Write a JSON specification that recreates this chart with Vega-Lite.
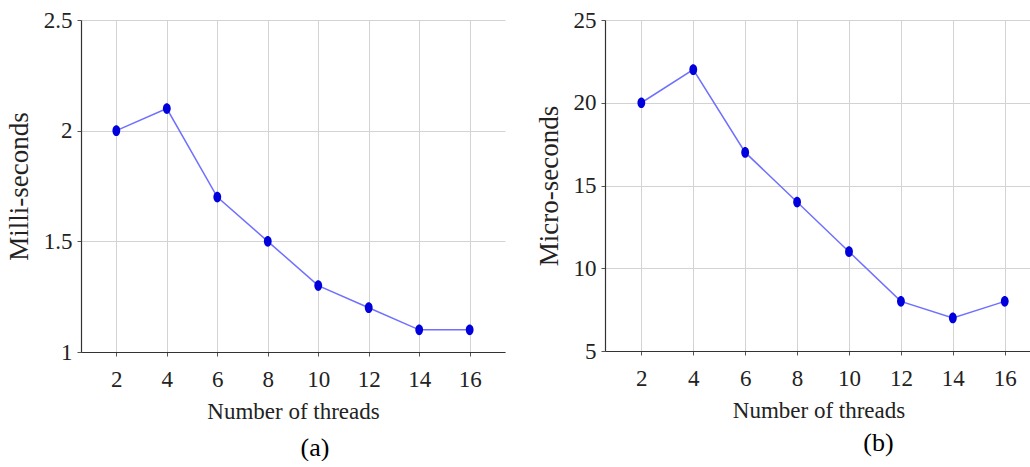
{
  "$schema": "https://vega.github.io/schema/vega-lite/v6.json",
  "background": "white",
  "padding": {"left": 5, "top": 9, "right": 0, "bottom": 0},
  "spacing": 30,
  "config": {
    "view": {"stroke": null},
    "axis": {
      "labelFont": "Liberation Serif",
      "titleFont": "Liberation Serif",
      "labelFontSize": 23,
      "titleFontSize": 23,
      "titleFontWeight": "normal",
      "labelColor": "#222222",
      "titleColor": "#222222",
      "gridColor": "#d3d3d3",
      "gridWidth": 1,
      "domainColor": "#333333",
      "domainWidth": 1.2,
      "tickColor": "#555555",
      "tickSize": 4
    },
    "axisY": {"titleFontSize": 27, "labelPadding": 5, "titlePadding": 10},
    "axisX": {"labelPadding": 12, "titlePadding": 9},
    "title": {"font": "Liberation Serif", "fontSize": 26, "fontWeight": "normal", "color": "#000000"}
  },
  "hconcat": [
    {
      "width": 424,
      "height": 332,
      "data": {"values": [
        {"threads": 2, "time": 2.0},
        {"threads": 4, "time": 2.1},
        {"threads": 6, "time": 1.7},
        {"threads": 8, "time": 1.5},
        {"threads": 10, "time": 1.3},
        {"threads": 12, "time": 1.2},
        {"threads": 14, "time": 1.1},
        {"threads": 16, "time": 1.1}
      ]},
      "title": {"text": "(a)", "orient": "bottom", "dx": 22, "offset": 12},
      "encoding": {
        "x": {"field": "threads", "type": "quantitative", "scale": {"domain": [0.6, 17.4], "nice": false, "zero": false},
              "axis": {"values": [2, 4, 6, 8, 10, 12, 14, 16], "title": "Number of threads"}},
        "y": {"field": "time", "type": "quantitative", "scale": {"domain": [1, 2.5], "nice": false, "zero": false},
              "axis": {"values": [1, 1.5, 2, 2.5], "format": "~g", "title": "Milli-seconds"}}
      },
      "layer": [
        {"mark": {"type": "line", "color": "#7070ff", "strokeWidth": 1.5}},
        {"mark": {"type": "point", "filled": true, "color": "#0000dd", "size": 95, "opacity": 1,
                  "shape": "M -0.8,0 A 0.8,1.1 0 1,0 0.8,0 A 0.8,1.1 0 1,0 -0.8,0 Z"}}
      ]
    },
    {
      "width": 427,
      "height": 331,
      "data": {"values": [
        {"threads": 2, "time": 20},
        {"threads": 4, "time": 22},
        {"threads": 6, "time": 17},
        {"threads": 8, "time": 14},
        {"threads": 10, "time": 11},
        {"threads": 12, "time": 8},
        {"threads": 14, "time": 7},
        {"threads": 16, "time": 8}
      ]},
      "title": {"text": "(b)", "orient": "bottom", "dx": 60, "offset": 8},
      "encoding": {
        "x": {"field": "threads", "type": "quantitative", "scale": {"domain": [0.6, 17.05], "nice": false, "zero": false},
              "axis": {"values": [2, 4, 6, 8, 10, 12, 14, 16], "title": "Number of threads"}},
        "y": {"field": "time", "type": "quantitative", "scale": {"domain": [5, 25], "nice": false, "zero": false},
              "axis": {"values": [5, 10, 15, 20, 25], "format": "~g", "title": "Micro-seconds"}}
      },
      "layer": [
        {"mark": {"type": "line", "color": "#7070ff", "strokeWidth": 1.5}},
        {"mark": {"type": "point", "filled": true, "color": "#0000dd", "size": 95, "opacity": 1,
                  "shape": "M -0.8,0 A 0.8,1.1 0 1,0 0.8,0 A 0.8,1.1 0 1,0 -0.8,0 Z"}}
      ]
    }
  ]
}
